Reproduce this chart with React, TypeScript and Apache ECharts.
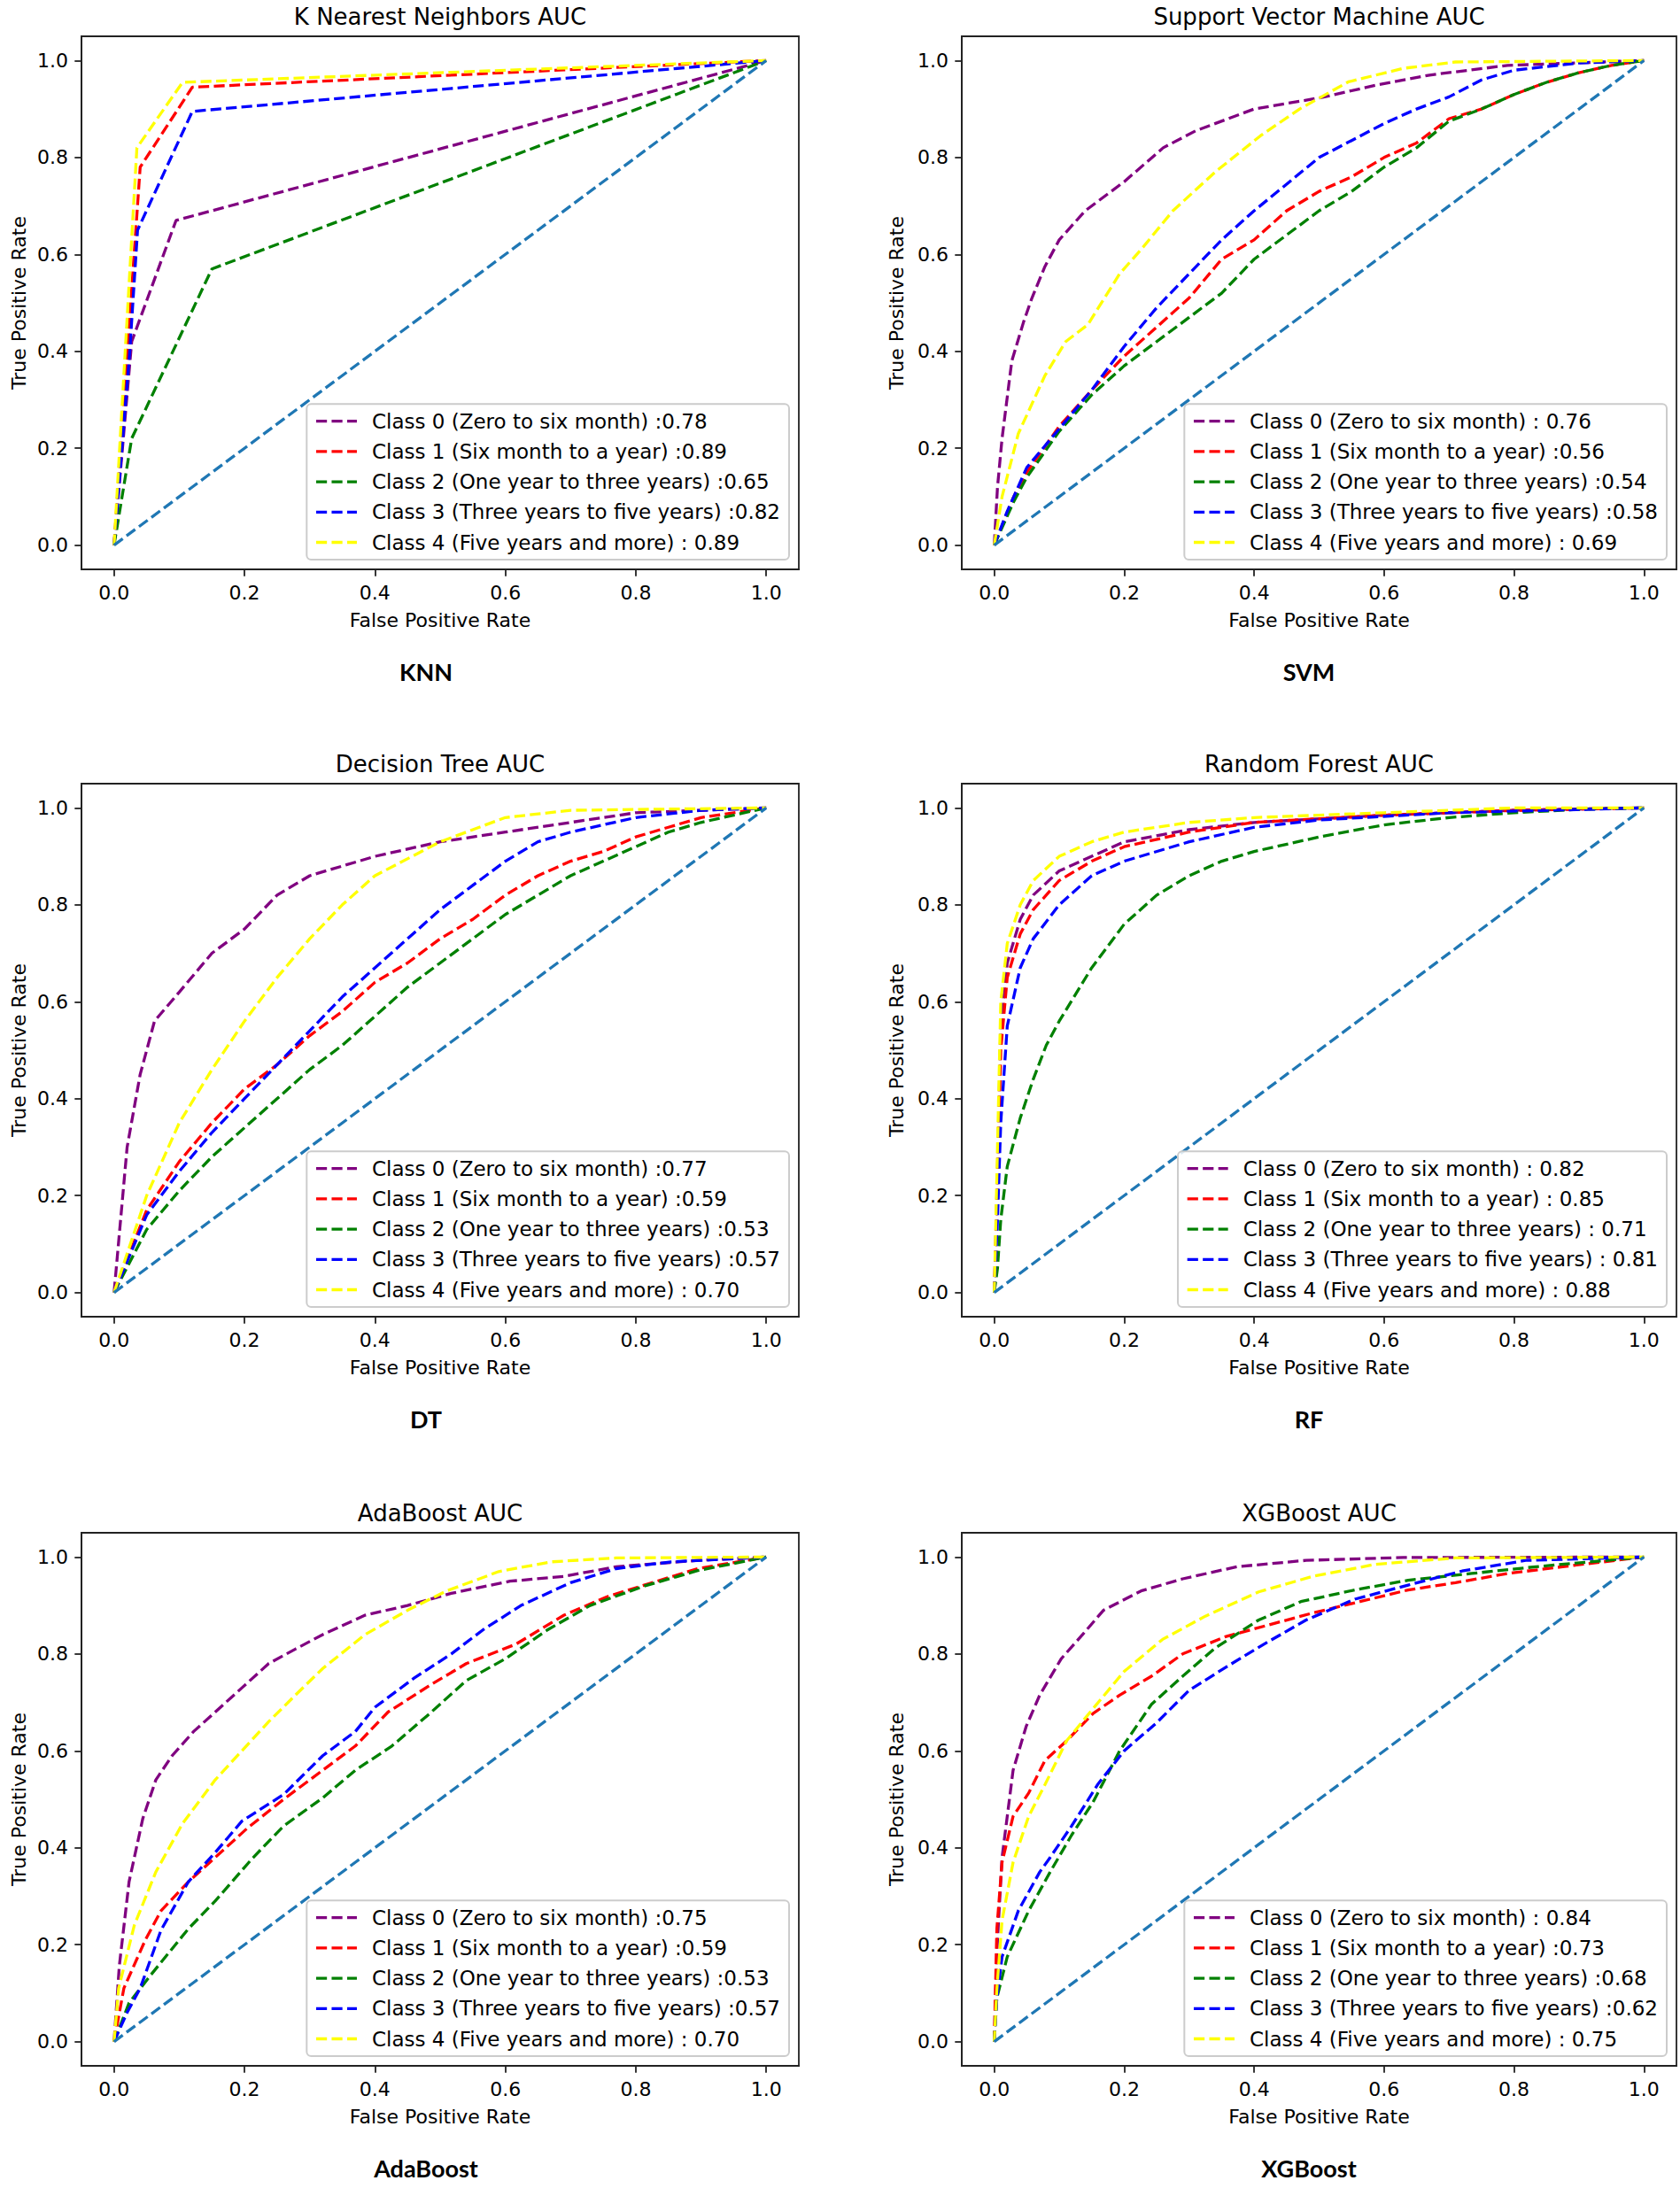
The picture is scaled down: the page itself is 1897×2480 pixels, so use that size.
import React, { useEffect, useRef } from "react";
import * as echarts from "echarts";

const W = 1897;
const H = 2480;

const classNames = [
  "Class 0 (Zero to six month)",
  "Class 1 (Six month to a year)",
  "Class 2 (One year to three years)",
  "Class 3 (Three years to five years)",
  "Class 4 (Five years and more)",
];
const classColors = ["#800080", "#ff0000", "#008000", "#0000ff", "#ffff00"];
const chanceColor = "#1f77b4";
const tickValues = [0, 0.2, 0.4, 0.6, 0.8, 1.0];
const chanceLine = [[0, 0], [1, 1]];

// ---- KNN ----
const knnAuc = [":0.78", ":0.89", ":0.65", ":0.82", ": 0.89"];
const knnC0 = [[0, 0], [0.027, 0.42], [0.095, 0.67], [1, 1]];
const knnC1 = [[0, 0], [0.04, 0.78], [0.12, 0.945], [1, 1]];
const knnC2 = [[0, 0], [0.027, 0.22], [0.15, 0.57], [1, 1]];
const knnC3 = [[0, 0], [0.024, 0.4], [0.036, 0.65], [0.12, 0.895], [1, 1]];
const knnC4 = [[0, 0], [0.035, 0.82], [0.105, 0.955], [1, 1]];

// ---- SVM ----
const svmAuc = [": 0.76", ":0.56", ":0.54", ":0.58", ": 0.69"];
const svmC0 = [[0, 0], [0.005, 0.12], [0.012, 0.22], [0.027, 0.38], [0.045, 0.46], [0.058, 0.51], [0.078, 0.575], [0.1, 0.63], [0.14, 0.69], [0.2, 0.75], [0.26, 0.82], [0.31, 0.855], [0.4, 0.9], [0.505, 0.924], [0.59, 0.95], [0.67, 0.97], [0.79, 0.99], [1, 1]];
const svmC1 = [[0, 0], [0.03, 0.1], [0.05, 0.15], [0.1, 0.245], [0.15, 0.32], [0.2, 0.39], [0.25, 0.45], [0.3, 0.51], [0.35, 0.59], [0.4, 0.63], [0.45, 0.69], [0.5, 0.73], [0.55, 0.76], [0.6, 0.8], [0.65, 0.83], [0.7, 0.88], [0.75, 0.9], [0.8, 0.93], [0.85, 0.955], [0.9, 0.975], [0.95, 0.99], [1, 1]];
const svmC2 = [[0, 0], [0.03, 0.09], [0.05, 0.14], [0.1, 0.235], [0.15, 0.31], [0.2, 0.37], [0.25, 0.42], [0.3, 0.47], [0.35, 0.52], [0.4, 0.59], [0.45, 0.64], [0.5, 0.69], [0.55, 0.73], [0.6, 0.78], [0.65, 0.82], [0.7, 0.875], [0.75, 0.9], [0.8, 0.93], [0.85, 0.955], [0.9, 0.975], [0.95, 0.99], [1, 1]];
const svmC3 = [[0, 0], [0.02, 0.07], [0.05, 0.16], [0.1, 0.24], [0.15, 0.32], [0.2, 0.41], [0.25, 0.49], [0.3, 0.56], [0.35, 0.63], [0.4, 0.69], [0.45, 0.745], [0.5, 0.8], [0.55, 0.835], [0.6, 0.87], [0.65, 0.9], [0.7, 0.925], [0.75, 0.96], [0.8, 0.98], [0.9, 0.995], [1, 1]];
const svmC4 = [[0, 0], [0.012, 0.1], [0.037, 0.23], [0.078, 0.35], [0.11, 0.42], [0.144, 0.455], [0.193, 0.56], [0.226, 0.61], [0.275, 0.69], [0.34, 0.77], [0.41, 0.845], [0.47, 0.9], [0.545, 0.956], [0.63, 0.984], [0.71, 0.997], [1, 1]];

// ---- Decision Tree ----
const dtAuc = [":0.77", ":0.59", ":0.53", ":0.57", ": 0.70"];
const dtC0 = [[0, 0], [0.01, 0.15], [0.02, 0.3], [0.04, 0.45], [0.062, 0.56], [0.1, 0.62], [0.15, 0.7], [0.2, 0.75], [0.25, 0.82], [0.3, 0.86], [0.4, 0.9], [0.5, 0.93], [0.6, 0.95], [0.7, 0.97], [0.8, 0.99], [1, 1]];
const dtC1 = [[0, 0], [0.05, 0.17], [0.1, 0.27], [0.15, 0.35], [0.2, 0.42], [0.25, 0.47], [0.3, 0.53], [0.35, 0.58], [0.4, 0.64], [0.45, 0.68], [0.5, 0.73], [0.55, 0.77], [0.6, 0.82], [0.65, 0.86], [0.7, 0.89], [0.75, 0.91], [0.8, 0.94], [0.85, 0.96], [0.9, 0.98], [1, 1]];
const dtC2 = [[0, 0], [0.05, 0.13], [0.1, 0.21], [0.15, 0.28], [0.2, 0.34], [0.25, 0.4], [0.3, 0.46], [0.35, 0.51], [0.4, 0.57], [0.45, 0.63], [0.5, 0.68], [0.55, 0.73], [0.6, 0.78], [0.65, 0.82], [0.7, 0.86], [0.75, 0.89], [0.8, 0.92], [0.85, 0.95], [0.9, 0.97], [1, 1]];
const dtC3 = [[0, 0], [0.05, 0.16], [0.1, 0.25], [0.15, 0.33], [0.2, 0.4], [0.25, 0.47], [0.3, 0.54], [0.35, 0.61], [0.4, 0.67], [0.45, 0.73], [0.5, 0.79], [0.55, 0.84], [0.6, 0.89], [0.65, 0.93], [0.7, 0.95], [0.8, 0.98], [0.9, 0.995], [1, 1]];
const dtC4 = [[0, 0], [0.05, 0.2], [0.1, 0.35], [0.15, 0.46], [0.2, 0.56], [0.25, 0.65], [0.3, 0.73], [0.35, 0.8], [0.4, 0.86], [0.5, 0.93], [0.6, 0.98], [0.7, 0.995], [1, 1]];

// ---- Random Forest ----
const rfAuc = [": 0.82", ": 0.85", ": 0.71", ": 0.81", ": 0.88"];
const rfC0 = [[0, 0], [0.005, 0.25], [0.01, 0.55], [0.02, 0.68], [0.04, 0.77], [0.06, 0.82], [0.1, 0.87], [0.15, 0.9], [0.2, 0.93], [0.3, 0.955], [0.4, 0.97], [0.6, 0.985], [0.8, 0.995], [1, 1]];
const rfC1 = [[0, 0], [0.005, 0.2], [0.01, 0.5], [0.02, 0.65], [0.04, 0.74], [0.06, 0.79], [0.1, 0.85], [0.15, 0.89], [0.2, 0.92], [0.3, 0.95], [0.4, 0.97], [0.6, 0.985], [0.8, 0.995], [1, 1]];
const rfC2 = [[0, 0], [0.005, 0.05], [0.01, 0.15], [0.02, 0.26], [0.04, 0.36], [0.06, 0.44], [0.08, 0.51], [0.1, 0.56], [0.15, 0.67], [0.2, 0.76], [0.25, 0.82], [0.3, 0.86], [0.35, 0.89], [0.4, 0.91], [0.5, 0.94], [0.6, 0.965], [0.7, 0.98], [0.8, 0.99], [0.9, 0.997], [1, 1]];
const rfC3 = [[0, 0], [0.005, 0.15], [0.01, 0.35], [0.02, 0.55], [0.04, 0.67], [0.06, 0.73], [0.1, 0.8], [0.15, 0.86], [0.2, 0.89], [0.3, 0.93], [0.4, 0.96], [0.5, 0.975], [0.7, 0.99], [1, 1]];
const rfC4 = [[0, 0], [0.005, 0.3], [0.01, 0.6], [0.02, 0.72], [0.04, 0.8], [0.06, 0.85], [0.1, 0.9], [0.15, 0.93], [0.2, 0.95], [0.3, 0.97], [0.4, 0.98], [0.6, 0.99], [0.8, 1.0], [1, 1]];

// ---- AdaBoost ----
const adaAuc = [":0.75", ":0.59", ":0.53", ":0.57", ": 0.70"];
const adaC0 = [[0, 0], [0.008, 0.156], [0.023, 0.33], [0.044, 0.46], [0.064, 0.54], [0.089, 0.59], [0.122, 0.64], [0.155, 0.68], [0.196, 0.73], [0.237, 0.78], [0.278, 0.81], [0.32, 0.84], [0.385, 0.88], [0.45, 0.9], [0.517, 0.925], [0.607, 0.95], [0.69, 0.96], [0.77, 0.98], [0.895, 0.993], [1, 1]];
const adaC1 = [[0, 0], [0.015, 0.11], [0.048, 0.21], [0.072, 0.27], [0.114, 0.33], [0.155, 0.38], [0.204, 0.44], [0.26, 0.5], [0.32, 0.56], [0.37, 0.61], [0.42, 0.68], [0.484, 0.735], [0.54, 0.78], [0.616, 0.82], [0.69, 0.88], [0.756, 0.918], [0.813, 0.942], [0.895, 0.976], [1, 1]];
const adaC2 = [[0, 0], [0.023, 0.08], [0.056, 0.137], [0.114, 0.233], [0.155, 0.29], [0.212, 0.378], [0.26, 0.445], [0.32, 0.503], [0.37, 0.56], [0.426, 0.61], [0.484, 0.677], [0.54, 0.745], [0.6, 0.79], [0.665, 0.85], [0.73, 0.9], [0.813, 0.94], [0.895, 0.972], [1, 1]];
const adaC3 = [[0, 0], [0.02, 0.06], [0.04, 0.11], [0.072, 0.23], [0.114, 0.33], [0.155, 0.39], [0.196, 0.455], [0.26, 0.51], [0.32, 0.59], [0.37, 0.64], [0.4, 0.69], [0.46, 0.75], [0.517, 0.8], [0.566, 0.85], [0.624, 0.9], [0.7, 0.947], [0.77, 0.976], [0.854, 0.99], [1, 1]];
const adaC4 = [[0, 0], [0.007, 0.11], [0.031, 0.24], [0.064, 0.35], [0.105, 0.45], [0.155, 0.54], [0.196, 0.6], [0.237, 0.66], [0.278, 0.715], [0.32, 0.77], [0.385, 0.84], [0.45, 0.89], [0.51, 0.93], [0.59, 0.97], [0.67, 0.99], [0.77, 0.998], [1, 1]];

// ---- XGBoost ----
const xgbAuc = [": 0.84", ":0.73", ":0.68", ":0.62", ": 0.75"];
const xgbC0 = [[0, 0], [0.004, 0.185], [0.012, 0.38], [0.029, 0.56], [0.049, 0.65], [0.07, 0.715], [0.103, 0.79], [0.136, 0.84], [0.168, 0.89], [0.226, 0.93], [0.29, 0.955], [0.374, 0.98], [0.48, 0.993], [0.63, 0.999], [1, 1]];
const xgbC1 = [[0, 0], [0.004, 0.233], [0.012, 0.37], [0.029, 0.465], [0.053, 0.513], [0.078, 0.58], [0.111, 0.62], [0.152, 0.677], [0.193, 0.715], [0.242, 0.754], [0.29, 0.8], [0.357, 0.836], [0.423, 0.86], [0.489, 0.884], [0.563, 0.908], [0.637, 0.932], [0.71, 0.947], [0.79, 0.966], [0.875, 0.98], [1, 1]];
const xgbC2 = [[0, 0], [0.004, 0.09], [0.02, 0.175], [0.053, 0.27], [0.086, 0.35], [0.119, 0.426], [0.152, 0.494], [0.193, 0.6], [0.242, 0.696], [0.29, 0.754], [0.34, 0.812], [0.407, 0.87], [0.472, 0.908], [0.555, 0.932], [0.637, 0.952], [0.735, 0.966], [0.834, 0.98], [1, 1]];
const xgbC3 = [[0, 0], [0.004, 0.09], [0.012, 0.175], [0.037, 0.27], [0.07, 0.35], [0.086, 0.38], [0.119, 0.445], [0.16, 0.532], [0.2, 0.6], [0.25, 0.658], [0.3, 0.725], [0.357, 0.773], [0.415, 0.82], [0.48, 0.87], [0.555, 0.913], [0.637, 0.942], [0.72, 0.971], [0.818, 0.993], [1, 1]];
const xgbC4 = [[0, 0], [0.004, 0.108], [0.012, 0.25], [0.029, 0.37], [0.053, 0.465], [0.078, 0.53], [0.111, 0.62], [0.152, 0.687], [0.2, 0.764], [0.259, 0.83], [0.325, 0.878], [0.407, 0.928], [0.49, 0.96], [0.587, 0.985], [0.71, 0.998], [1, 1]];

const panelTitles = [
  "K Nearest Neighbors AUC",
  "Support Vector Machine AUC",
  "Decision Tree AUC",
  "Random Forest AUC",
  "AdaBoost AUC",
  "XGBoost AUC",
];
const panelCaptions = ["KNN", "SVM", "DT", "RF", "AdaBoost", "XGBoost"];
const panelAucs = [knnAuc, svmAuc, dtAuc, rfAuc, adaAuc, xgbAuc];
const panelCurves = [
  [knnC0, knnC1, knnC2, knnC3, knnC4],
  [svmC0, svmC1, svmC2, svmC3, svmC4],
  [dtC0, dtC1, dtC2, dtC3, dtC4],
  [rfC0, rfC1, rfC2, rfC3, rfC4],
  [adaC0, adaC1, adaC2, adaC3, adaC4],
  [xgbC0, xgbC1, xgbC2, xgbC3, xgbC4],
];

// layout (px)
const colLeft = [92, 1086];
const colWidth = [810, 807];
const colYName = [21, 1012];
const rowTop = [41, 885, 1731];
const frameH = 602;

const FONT = "DejaVu Sans";
const DASH = [12.2, 5.3];

function buildOption() {
  const grids: any[] = [];
  const xAxes: any[] = [];
  const yAxes: any[] = [];
  const series: any[] = [];
  const legends: any[] = [];
  const graphics: any[] = [];

  panelTitles.forEach((title, i) => {
    const col = i % 2;
    const row = Math.floor(i / 2);
    const left = colLeft[col];
    const width = colWidth[col];
    const top = rowTop[row];
    const cx = left + width / 2;

    grids.push({
      left,
      top,
      width,
      height: frameH,
      show: true,
      borderColor: "#222",
      borderWidth: 1.8,
      backgroundColor: "#fff",
      containLabel: false,
    });
    const axisCommon = {
      type: "value",
      min: -0.05,
      max: 1.05,
      gridIndex: i,
      splitLine: { show: false },
      axisLine: { show: true, onZero: false, lineStyle: { color: "#222", width: 1.8 } },
      axisTick: { show: true, length: 7.7, lineStyle: { color: "#222", width: 1.8 }, customValues: tickValues },
      axisLabel: {
        customValues: tickValues,
        formatter: (v: number) => v.toFixed(1),
        margin: 15,
        fontSize: 22,
        fontFamily: FONT,
        color: "#000",
      },
    };
    xAxes.push({ ...axisCommon });
    yAxes.push({ ...axisCommon });

    const names: string[] = [];
    panelCurves[i].forEach((curve, k) => {
      const name = `${classNames[k]} ${panelAucs[i][k]}`;
      names.push(name);
      series.push({
        type: "line",
        name,
        xAxisIndex: i,
        yAxisIndex: i,
        data: curve,
        symbol: "none",
        showSymbol: false,
        silent: true,
        clip: true,
        lineStyle: { color: classColors[k], width: 3.3, type: DASH },
        itemStyle: { color: classColors[k] },
        z: 2,
      });
    });
    series.push({
      type: "line",
      name: "chance-" + i,
      xAxisIndex: i,
      yAxisIndex: i,
      data: chanceLine,
      symbol: "none",
      showSymbol: false,
      silent: true,
      lineStyle: { color: chanceColor, width: 3.3, type: DASH },
      itemStyle: { color: chanceColor },
      z: 2,
    });

    legends.push({
      data: names,
      orient: "vertical",
      right: W - (left + width - 11),
      bottom: H - (top + frameH - 11),
      itemWidth: 46,
      itemHeight: 14,
      itemGap: 11.2,
      padding: [8, 10, 8, 9],
      backgroundColor: "rgba(255,255,255,0.85)",
      borderColor: "#cccccc",
      borderWidth: 2,
      borderRadius: 5,
      selectedMode: false,
      align: "left",
      itemStyle: { color: "rgba(0,0,0,0)", borderWidth: 0, opacity: 0 },
      lineStyle: { width: 3.3, type: DASH },
      textStyle: { fontSize: 23, fontFamily: FONT, color: "#000", lineHeight: 22.4, padding: [0, 0, 0, 12] },
    });

    graphics.push({
      type: "text",
      x: cx,
      y: top - 22,
      style: { text: title, fontSize: 26, fontFamily: FONT, fill: "#000", align: "center", verticalAlign: "middle" },
    });
    graphics.push({
      type: "text",
      x: cx,
      y: top + frameH + 57,
      style: { text: "False Positive Rate", fontSize: 22, fontFamily: FONT, fill: "#000", align: "center", verticalAlign: "middle" },
    });
    graphics.push({
      type: "text",
      x: colYName[col],
      y: top + frameH / 2,
      rotation: Math.PI / 2,
      style: { text: "True Positive Rate", fontSize: 22, fontFamily: FONT, fill: "#000", align: "center", verticalAlign: "middle" },
    });
    graphics.push({
      type: "text",
      x: col === 0 ? 481 : 1478,
      y: top + frameH + 115,
      style: { text: panelCaptions[i], fontSize: 27, fontWeight: "bold", fontFamily: "Lato", fill: "#000", align: "center", verticalAlign: "middle" },
    });
  });

  return {
    animation: false,
    backgroundColor: "#fff",
    grid: grids,
    xAxis: xAxes,
    yAxis: yAxes,
    series,
    legend: legends,
    graphic: { elements: graphics },
  };
}

export default function App() {
  const ref = useRef<HTMLDivElement>(null);
  useEffect(() => {
    if (!ref.current) return;
    const chart = echarts.init(ref.current, undefined, { renderer: "svg", width: W, height: H });
    chart.setOption(buildOption() as any);
    return () => chart.dispose();
  }, []);
  return (
    <div
      ref={ref}
      style={{ position: "absolute", left: 0, top: 0, width: W, height: H, background: "#fff" }}
    />
  );
}
